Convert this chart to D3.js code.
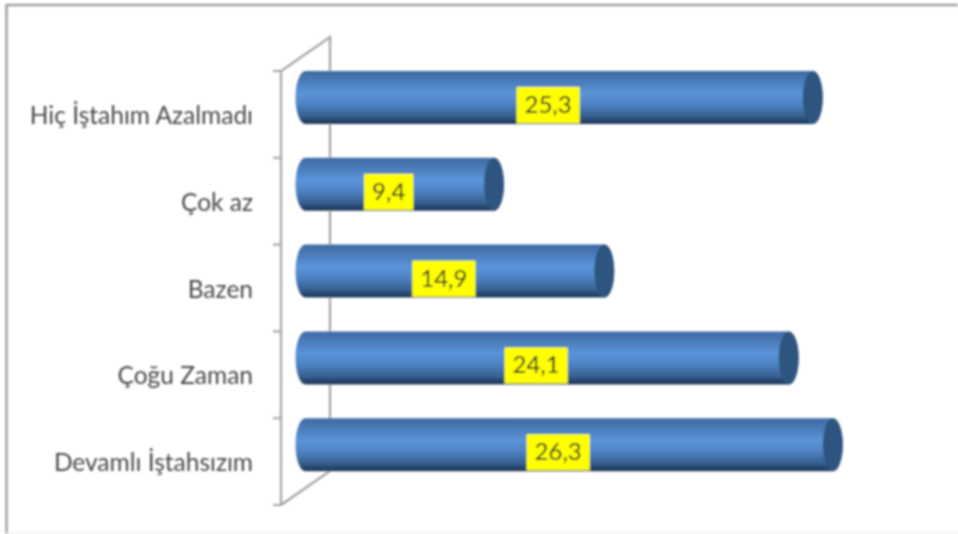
<html>
<head>
  <style>
    body { margin: 0; background: #fff; overflow: hidden; }
    svg { display: block; }
    text { font-family: Lato, 'Open Sans', sans-serif; }
  </style>
  <script src="https://d3js.org/d3.v7.min.js"></script>
</head>
<body>
  <svg id="chart" width="958" height="534"></svg>
  <script>
    const categories = ['Hiç İştahım Azalmadı', 'Çok az', 'Bazen', 'Çoğu Zaman', 'Devamlı İştahsızım'];
    const values = [25.3, 9.4, 14.9, 24.1, 26.3];

    const svg = d3.select('#chart');
    const defs = svg.append('defs');

    // the source is a blurry screenshot
    defs.append('filter').attr('id', 'soft')
      .append('feGaussianBlur').attr('stdDeviation', 0.8);

    const grad = defs.append('linearGradient').attr('id', 'tube')
      .attr('x1', 0).attr('y1', 0).attr('x2', 0).attr('y2', 1);
    [[0, '#3f6ba3'], [0.12, '#4674b0'], [0.42, '#5b94da'], [0.62, '#4f83c4'], [0.85, '#36608f'], [0.97, '#1f3a5c'], [1, '#2a4464']]
      .forEach(s => grad.append('stop').attr('offset', s[0]).attr('stop-color', s[1]));

    const plotTop = 71, plotBottom = 505, depth = 49, rise = 34;
    const x = d3.scaleLinear().domain([0, 30]).range([305.5, 907]);
    const y = d3.scaleBand().domain(categories).range([plotTop, plotBottom]);
    const barH = 53, rx = 10;

    const g = svg.append('g').attr('filter', 'url(#soft)');

    // outer frame
    g.append('path').attr('d', 'M6.5,534V5H958').attr('fill', 'none').attr('stroke', '#a0a0a0').attr('stroke-width', 2.5);
    g.append('line').attr('x1', 6).attr('x2', 958).attr('y1', 533).attr('y2', 533).attr('stroke', '#e4e4e4');

    // 3d side wall
    const wallX = 281;
    g.append('path')
      .attr('d', `M${wallX},${plotBottom}V${plotTop}L${wallX + depth},${plotTop - rise}V${plotBottom - rise}L${wallX},${plotBottom}`)
      .attr('fill', 'none').attr('stroke', '#a3a3a3').attr('stroke-width', 2.2);

    // ticks sit on band edges, so they are drawn from the band scale
    const tickYs = categories.map(c => y(c)).concat(plotBottom);
    g.selectAll('.tick-mark').data(tickYs).enter().append('line')
      .attr('x1', wallX - 8).attr('x2', wallX)
      .attr('y1', d => d).attr('y2', d => d)
      .attr('stroke', '#a3a3a3').attr('stroke-width', 2);

    g.selectAll('.cat').data(categories).enter().append('text')
      .attr('x', 253)
      .attr('y', d => y(d) + y.bandwidth() / 2 + 9.5)
      .attr('text-anchor', 'end')
      .attr('font-size', 24.5)
      .attr('fill', '#4a4a4a')
      .text(d => d);

    const bars = g.selectAll('.bar').data(categories).enter().append('g')
      .attr('transform', d => `translate(0,${y(d)})`);

    bars.append('path')
      .attr('fill', 'url(#tube)')
      .attr('d', (d, i) => {
        const x0 = x(0), x1 = x(values[i]);
        return `M${x0},0H${x1}A${rx},${barH / 2} 0 0 1 ${x1},${barH}H${x0}A${rx},${barH / 2} 0 0 1 ${x0},0Z`;
      });

    bars.append('ellipse')
      .attr('cx', (d, i) => x(values[i]))
      .attr('cy', barH / 2)
      .attr('rx', rx).attr('ry', barH / 2)
      .attr('fill', '#2f5480');

    const labels = g.selectAll('.val').data(categories).enter().append('g')
      .attr('transform', (d, i) => `translate(${x(values[i] / 2) - 11},${y(d) + 16})`);

    const labelText = labels.append('text')
      .attr('y', 26).attr('text-anchor', 'middle')
      .attr('font-size', 24).attr('fill', '#262626')
      .text((d, i) => String(values[i]).replace('.', ','));

    // box hugs the text, so 9,4 gets a narrower one
    labelText.each(function() {
      const w = this.getComputedTextLength() + 16;
      d3.select(this.parentNode).insert('rect', 'text')
        .attr('x', -w / 2).attr('y', 0).attr('width', w).attr('height', 36)
        .attr('fill', '#ffff00');
    });
  </script>
</body>
</html>
